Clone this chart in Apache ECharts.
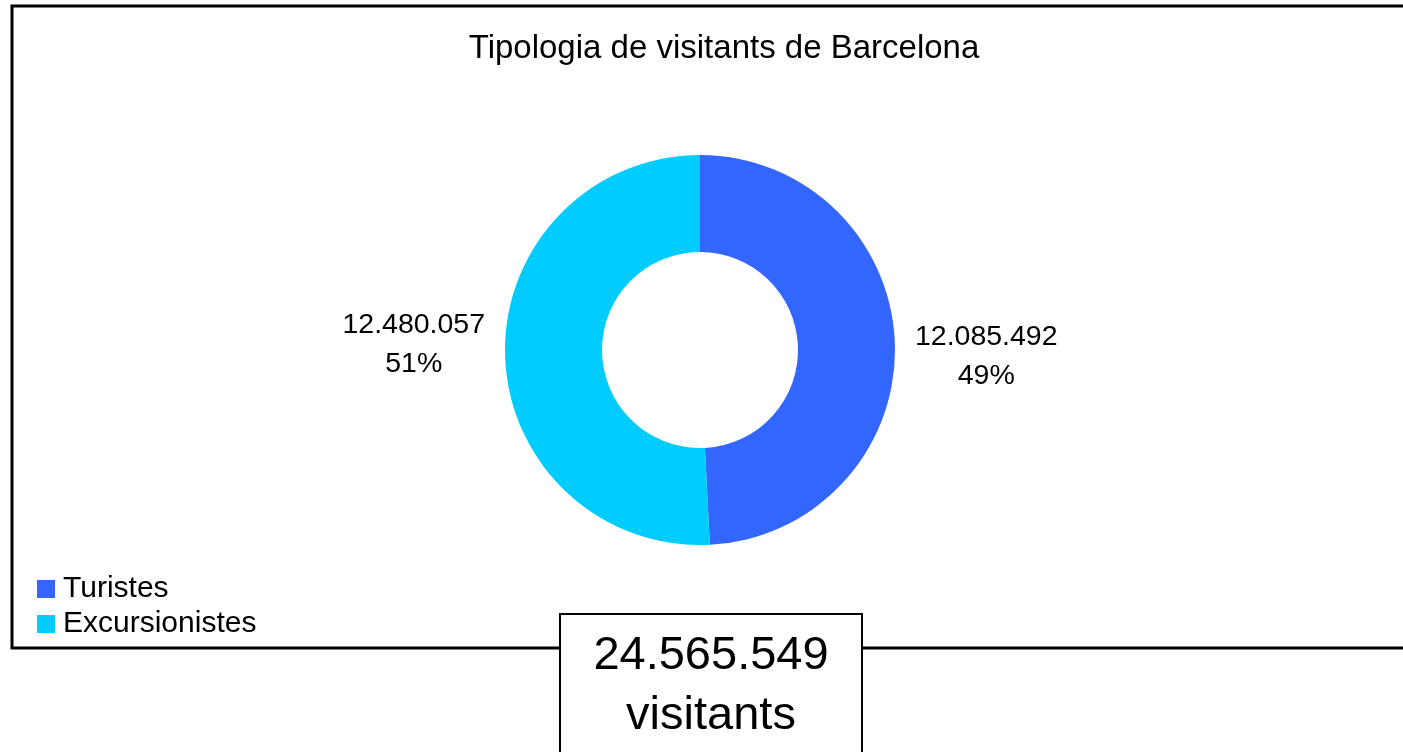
<!DOCTYPE html>
<html>
<head>
<meta charset="utf-8">
<title>Tipologia de visitants de Barcelona</title>
<script src="https://cdn.jsdelivr.net/npm/echarts@6/dist/echarts.min.js"></script>
<style>
  html, body { margin: 0; padding: 0; background: #fff; }
  #chart { width: 1403px; height: 752px; }
</style>
</head>
<body>
<div id="chart"></div>
<script>
  var categories = ['Turistes', 'Excursionistes'];
  var values = [12085492, 12480057];
  var colors = ['#3366FF', '#00CCFF'];
  var totalLabel = 'visitants';

  var font = '"Liberation Sans", Arial, sans-serif';

  // 12085492 -> 12.085.492
  function fmt(n) {
    return String(n).replace(/\B(?=(\d{3})+(?!\d))/g, '.');
  }

  var total = 0;
  var pieData = [];
  for (var i = 0; i < values.length; i++) {
    total += values[i];
    pieData.push({ name: categories[i], value: values[i], itemStyle: { color: colors[i] } });
  }

  // small vertical nudges so the labels sit like in the original
  var labelDy = [12, -11];

  var myChart = echarts.init(document.getElementById('chart'));
  var option = {
    animation: false,
    backgroundColor: '#fff',
    title: {
      text: 'Tipologia de visitants de Barcelona',
      left: 719,
      top: 27,
      textAlign: 'center',
      textStyle: { fontFamily: font, fontSize: 33, fontWeight: 'normal', color: '#000' }
    },
    legend: {
      orient: 'vertical',
      left: 37,
      top: 574,
      padding: 0,
      itemWidth: 18,
      itemHeight: 18,
      itemGap: 5,
      icon: 'rect',
      data: categories,
      textStyle: { fontFamily: font, fontSize: 30, color: '#000', padding: [0, 0, 0, 3] }
    },
    graphic: [
      {
        type: 'rect',
        z: 0,
        shape: { x: 12, y: 6, width: 1420, height: 642 },
        style: { fill: 'none', stroke: '#000', lineWidth: 3 }
      },
      {
        type: 'rect',
        z: 10,
        shape: { x: 560, y: 614, width: 302, height: 160 },
        style: { fill: '#fff', stroke: '#000', lineWidth: 2 }
      },
      {
        type: 'text',
        z: 11,
        x: 711,
        y: 626,
        style: {
          text: fmt(total) + '\n' + totalLabel,
          fontFamily: font,
          fontSize: 47,
          lineHeight: 60,
          align: 'center',
          fill: '#000'
        }
      }
    ],
    series: [
      {
        name: 'Tipologia',
        type: 'pie',
        center: [700, 350],
        radius: [98, 195],
        startAngle: 90,
        clockwise: true,
        avoidLabelOverlap: false,
        data: pieData,
        label: {
          show: true,
          position: 'outside',
          fontFamily: font,
          fontSize: 28.5,
          lineHeight: 39,
          color: '#000',
          formatter: function (p) {
            return fmt(p.value) + '\n' + Math.round(p.percent) + '%';
          }
        },
        labelLine: { show: false, length: 15, length2: 0 },
        labelLayout: function (params) {
          var r = params.labelRect;
          return {
            x: r.x + r.width / 2,
            y: r.y + r.height / 2 + labelDy[params.dataIndex],
            align: 'center',
            verticalAlign: 'middle'
          };
        },
        emphasis: { disabled: true }
      }
    ]
  };
  myChart.setOption(option);
</script>
</body>
</html>
